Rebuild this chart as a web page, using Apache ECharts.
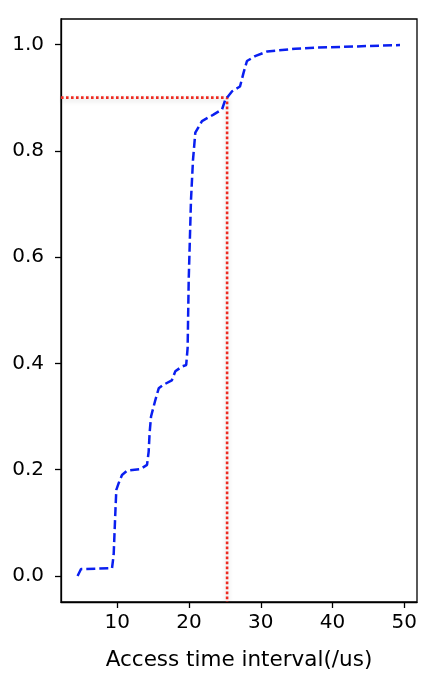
<!DOCTYPE html>
<html>
<head>
<meta charset="utf-8">
<script src="https://cdn.jsdelivr.net/npm/echarts@6/dist/echarts.min.js"></script>
<style>
  html, body { margin: 0; padding: 0; background: #fff; }
  #chart { width: 436px; height: 682px; }
</style>
</head>
<body>
<div id="chart"></div>
<script>
// CDF of access time interval
const intervalUs = [4.46, 4.94, 9.26, 9.49, 9.72, 9.86, 10.2, 10.65, 11.35, 13.2, 14.14, 14.37, 14.5, 14.7,
  15.3, 15.77, 16.46, 17.6, 18.08, 18.3, 19.0, 19.6, 19.8, 19.95, 20.27, 20.55, 20.87, 21.8, 23.4,
  24.6, 25.05, 26.0, 27.1, 27.6, 28.07, 29.2, 30.9, 34.8, 37.6, 49.4];
const cdfValues = [0.0, 0.013, 0.0145, 0.04, 0.118, 0.162, 0.175, 0.19, 0.198, 0.201, 0.209, 0.234, 0.269, 0.30,
  0.331, 0.353, 0.36, 0.368, 0.385, 0.388, 0.394, 0.397, 0.429, 0.557, 0.708, 0.783, 0.834, 0.856, 0.868,
  0.878, 0.896, 0.912, 0.921, 0.947, 0.969, 0.978, 0.987, 0.992, 0.994, 0.999];
const xTicks = [10, 20, 30, 40, 50];
const yTicks = [0.0, 0.2, 0.4, 0.6, 0.8, 1.0];
const xRange = [2.15, 51.77];
const yRange = [-0.049, 1.048];
const markX = 25.3;
const markY = 0.9;

let chart = echarts.init(document.getElementById('chart'));
const font = 'DejaVu Sans';
let options = {
  animation: false,
  grid: {
    left: 61, right: 19, top: 19, bottom: 80,
    show: true, borderColor: '#000', borderWidth: 1.3
  },
  xAxis: {
    type: 'value',
    min: xRange[0], max: xRange[1],
    name: 'Access time interval(/us)',
    nameLocation: 'middle',
    nameGap: 47,
    nameTextStyle: { fontFamily: font, fontSize: 21.5, color: '#000' },
    axisLine: { show: true, onZero: false, lineStyle: { color: '#000', width: 1.3 } },
    axisTick: { show: true, length: 6, customValues: xTicks, lineStyle: { color: '#000', width: 1.3 } },
    axisLabel: { customValues: xTicks, margin: 11, fontFamily: font, fontSize: 20, color: '#000' },
    splitLine: { show: false }
  },
  yAxis: {
    type: 'value',
    min: yRange[0], max: yRange[1],
    axisLine: { show: true, onZero: false, lineStyle: { color: '#000', width: 1.3 } },
    axisTick: { show: true, length: 6, customValues: yTicks, lineStyle: { color: '#000', width: 1.3 } },
    axisLabel: {
      customValues: yTicks, margin: 17, fontFamily: font, fontSize: 20, color: '#000',
      formatter: function (v) { return v.toFixed(1); }
    },
    splitLine: { show: false }
  },
  series: [
    {
      type: 'line',
      data: intervalUs.map((x, i) => [x, cdfValues[i]]),
      showSymbol: false,
      smooth: false,
      lineStyle: { color: '#0a1ff0', width: 2.5, type: [9, 4] },
      z: 3
    },
    {
      type: 'line',
      data: [[xRange[0], markY], [markX, markY], [markX, yRange[0]]],
      showSymbol: false,
      lineStyle: {
        color: '#ee2a20', width: 2.6, type: [2.6, 2.4],
        shadowColor: 'rgba(0,0,0,0.22)', shadowBlur: 5, shadowOffsetY: 2
      },
      z: 2
    }
  ]
};
chart.setOption(options);
</script>
</body>
</html>
